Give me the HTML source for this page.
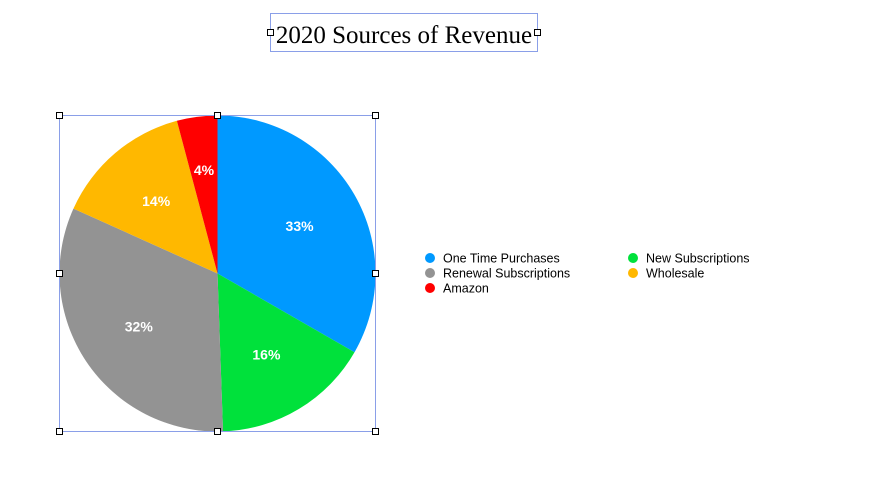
<!DOCTYPE html>
<html><head><meta charset="utf-8"><style>
body{margin:0;background:#fff;width:874px;height:472px;overflow:hidden;font-family:"Liberation Sans",sans-serif}
</style></head><body>
<svg width="874" height="472" xmlns="http://www.w3.org/2000/svg">
<g>
<rect x="270.5" y="13.5" width="267" height="38" fill="none" stroke="#8a9fe8" stroke-width="1"/>
<rect x="267.5" y="29.5" width="6" height="6" fill="#fff" stroke="#000"/>
<rect x="534.5" y="29.5" width="6" height="6" fill="#fff" stroke="#000"/>
<text x="404" y="43" text-anchor="middle" font-family="Liberation Serif,serif" font-size="25" fill="#000">2020 Sources of Revenue</text>
</g>
<g id="pie"></g>
<g>
<rect x="59.5" y="115.5" width="316" height="316" fill="none" stroke="#8a9fe8"/>
</g>
<g id="handles"></g>
<g id="legend"></g>
</svg>
<script>
const categories=["One Time Purchases","New Subscriptions","Renewal Subscriptions","Wholesale","Amazon"];
const values=[33,16,32,14,4.1];
const labels=["33%","16%","32%","14%","4%"];
const colors=["#0099ff","#00e13b","#939393","#ffb800","#ff0000"];
const NS="http://www.w3.org/2000/svg";
const cx=217.5,cy=273.5,r=158;
const total=values.reduce((a,b)=>a+b,0);
const pie=document.getElementById('pie');
let a0=0;
function pt(a,rr){return [cx+rr*Math.sin(a),cy-rr*Math.cos(a)];}
values.forEach((v,i)=>{
  const a1=a0+v/total*2*Math.PI;
  const p0=pt(a0,r),p1=pt(a1,r);
  const large=(a1-a0)>Math.PI?1:0;
  const path=document.createElementNS(NS,'path');
  path.setAttribute('d',`M${cx},${cy}L${p0[0]},${p0[1]}A${r},${r} 0 ${large} 1 ${p1[0]},${p1[1]}Z`);
  path.setAttribute('fill',colors[i]);
  
  
  pie.appendChild(path);
  const am=(a0+a1)/2;const lp=pt(am,(v/total<0.06)?r*0.66:r*0.6);
  const t=document.createElementNS(NS,'text');
  t.setAttribute('x',lp[0]);t.setAttribute('y',lp[1]+5);
  t.setAttribute('text-anchor','middle');t.setAttribute('fill','#fff');
  t.setAttribute('font-size','14');t.setAttribute('font-weight','bold');
  
  
  t.textContent=labels[i];pie.appendChild(t);
  a0=a1;
});
const hp=[[59,115],[217,115],[375,115],[59,273],[375,273],[59,431],[217,431],[375,431]];
const hg=document.getElementById('handles');
hp.forEach(p=>{const h=document.createElementNS(NS,'rect');
h.setAttribute('x',p[0]-3+0.5);h.setAttribute('y',p[1]-3+0.5);h.setAttribute('width',6);h.setAttribute('height',6);
h.setAttribute('fill','#fff');h.setAttribute('stroke','#000');


hg.appendChild(h);});
const lg=document.getElementById('legend');
categories.forEach((c,i)=>{
  const col=i%2,row=Math.floor(i/2);
  const x=430+col*203,y=258+row*15;
  const g=document.createElementNS(NS,'g');
  
  
  const d=document.createElementNS(NS,'circle');
  d.setAttribute('cx',x);d.setAttribute('cy',y);d.setAttribute('r',5);d.setAttribute('fill',colors[i]);
  const t=document.createElementNS(NS,'text');
  t.setAttribute('x',x+13);t.setAttribute('y',y+4.5);t.setAttribute('font-size','12.5');t.setAttribute('fill','#000');
  t.textContent=c;g.appendChild(d);g.appendChild(t);lg.appendChild(g);
});
</script>
</body></html>
